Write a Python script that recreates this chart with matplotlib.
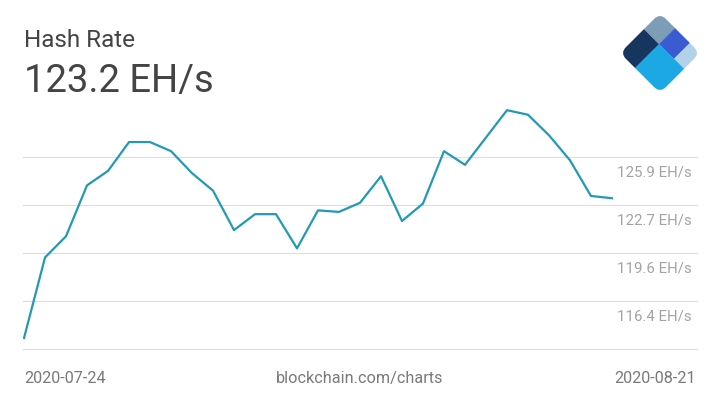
import numpy as np
import pandas as pd
import matplotlib
matplotlib.use("Agg")
import matplotlib.pyplot as plt
import matplotlib.transforms as mtransforms
from matplotlib.patches import Rectangle, FancyBboxPatch

plt.rcParams['font.family'] = ['Roboto', 'DejaVu Sans']

# ---- data ----
start_date = "2020-07-24"
end_date = "2020-08-21"
hash_rate = [114.0, 119.3, 120.7, 124.05, 125.0, 126.9, 126.9, 126.3, 124.85,
             123.7, 121.1, 122.15, 122.15, 119.9, 122.4, 122.3, 122.9, 124.65,
             121.7, 122.85, 126.3, 125.4, 127.2, 129.0, 128.7, 127.35, 125.7,
             123.35, 123.2]
grid_vals = [113.25, 116.41, 119.57, 122.73, 125.89]
tick_vals = [116.41, 119.57, 122.73, 125.89]
tick_labels = ["116.4 EH/s", "119.6 EH/s", "122.7 EH/s", "125.9 EH/s"]
title = "Hash Rate"
current = "123.2 EH/s"
source = "blockchain.com/charts"

dates = pd.date_range(start_date, end_date, freq="D")

# ---- figure ----
W, H = 720, 405
fig = plt.figure(figsize=(7.2, 4.05), dpi=100)
fig.patch.set_facecolor("white")

ax = fig.add_axes([23 / W, 1 - 349.3 / H, 674 / W, (349.3 - 95) / H])
ax.plot(dates, hash_rate, color="#2399b6", lw=1.6, solid_joinstyle="round", zorder=3)

for v in grid_vals:
    ax.axhline(v, color="#dddddd", lw=0.8, clip_on=False, zorder=1)

day = pd.Timedelta(days=1)
ax.set_xlim(dates[0] - 0.05 * day, dates[0] + 32.05 * day)
ax.set_ylim(113.25, 130.0)
ax.axis("off")

for v, lab in zip(tick_vals, tick_labels):
    ax.annotate(lab, xy=(0.9926, v), xycoords=("axes fraction", "data"),
                xytext=(0, -13.5), textcoords="offset points",
                ha="right", va="baseline", fontsize=10.8, color="#a3a3a3")

# ---- header / footer texts ----
fig.text(24 / W, 1 - 46.7 / H, title, fontsize=17.5, color="#444444",
         ha="left", va="baseline")
fig.text(24 / W, 1 - 91.7 / H, current, fontsize=27.5, color="#444444",
         ha="left", va="baseline")
fig.text(24 / W, 1 - 382.7 / H, dates[0].strftime("%Y-%m-%d"), fontsize=11.7,
         color="#7a7a7a", ha="left", va="baseline")
fig.text(696 / W, 1 - 382.7 / H, dates[-1].strftime("%Y-%m-%d"), fontsize=11.7,
         color="#7a7a7a", ha="right", va="baseline")
fig.text(0.5, 1 - 382.7 / H, source, fontsize=11.7, color="#7a7a7a",
         ha="center", va="baseline")

# ---- logo ----
lax = fig.add_axes([620 / W, 1 - 93 / H, 80 / W, 80 / H])
lax.set_xlim(-0.7071, 0.7071)
lax.set_ylim(0, 1.4142)
lax.axis("off")
rot = mtransforms.Affine2D().rotate_deg(45) + lax.transData
clip = FancyBboxPatch((0, 0), 1, 1, boxstyle="round,pad=0,rounding_size=0.15",
                      transform=rot, facecolor="none", edgecolor="none")
lax.add_patch(clip)
pieces = [
    ((0, 0.62), 0.6, 0.38, "#17365f"),
    ((0.6, 0.62), 0.4, 0.38, "#7d9cb6"),
    ((0.6, 0.25), 0.4, 0.37, "#3a5cd0"),
    ((0.6, 0.0), 0.4, 0.25, "#b2d2ea"),
    ((0, 0), 0.6, 0.62, "#1ba8e5"),
]
for xy, w, h, c in pieces:
    r = Rectangle(xy, w, h, facecolor=c, edgecolor=c, lw=0.3, transform=rot)
    lax.add_patch(r)
    r.set_clip_path(clip)

fig.savefig("out.png", dpi=100, facecolor="white")
